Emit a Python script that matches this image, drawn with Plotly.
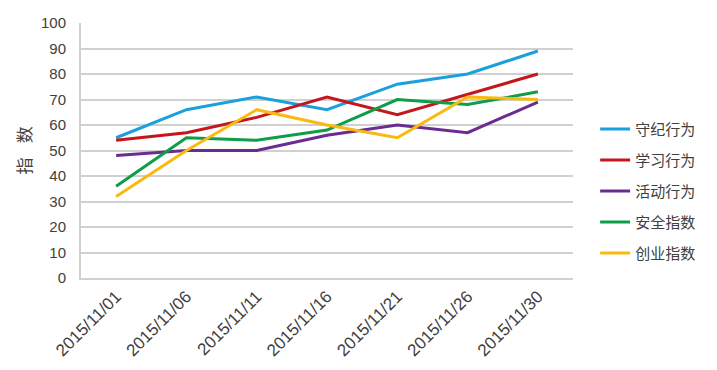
import plotly.graph_objects as go

dates = ["2015/11/01", "2015/11/06", "2015/11/11", "2015/11/16", "2015/11/21", "2015/11/26", "2015/11/30"]
discipline = [55, 66, 71, 66, 76, 80, 89]
study = [54, 57, 63, 71, 64, 72, 80]
activity = [48, 50, 50, 56, 60, 57, 69]
safety = [36, 55, 54, 58, 70, 68, 73]
startup = [32, 50, 66, 60, 55, 71, 70]

names = ["守纪行为", "学习行为", "活动行为", "安全指数", "创业指数"]
colors = ["#1AA0DC", "#C4161C", "#6A2C90", "#0F9D48", "#F9B90F"]
series = [discipline, study, activity, safety, startup]

fig = go.Figure()
for n, c, s in zip(names, colors, series):
    fig.add_trace(go.Scatter(x=dates, y=s, name=n, mode="lines",
                             line=dict(color=c, width=3), legendgroup=n))

font_family = "Liberation Sans, Arial, Noto Sans CJK SC, sans-serif"
fig.update_layout(
    width=717, height=370,
    margin=dict(l=73, r=152, t=15, b=100),
    paper_bgcolor="white", plot_bgcolor="white",
    font=dict(family=font_family, color="#404040", size=15),
    showlegend=True,
    legend=dict(x=1.045, y=0.34, xanchor="left", yanchor="middle",
                font=dict(size=15, color="#404040"), tracegroupgap=8.5,
                itemwidth=30, bgcolor="rgba(0,0,0,0)"),
    xaxis=dict(type="category", range=[-0.5, 6.5], tickangle=-45, automargin=False,
               showgrid=False, showline=True, linecolor="#D0D0D0", linewidth=2,
               ticks="", tickfont=dict(size=17, color="#404040")),
    yaxis=dict(range=[0, 100], dtick=10, showgrid=True, gridcolor="#D0D0D0", automargin=False,
               gridwidth=2, showline=True, linecolor="#D0D0D0", linewidth=2,
               zeroline=False, ticks="", ticklabelstandoff=10,
               tickfont=dict(size=15, color="#404040")),
    annotations=[dict(text="指\u00a0\u00a0\u00a0数", xref="paper", yref="paper",
                      x=(25 - 81) / 492, y=0.5, textangle=-90, showarrow=False,
                      xanchor="center", yanchor="middle",
                      font=dict(size=17, color="#404040"))],
)

fig.write_html("out.html")
